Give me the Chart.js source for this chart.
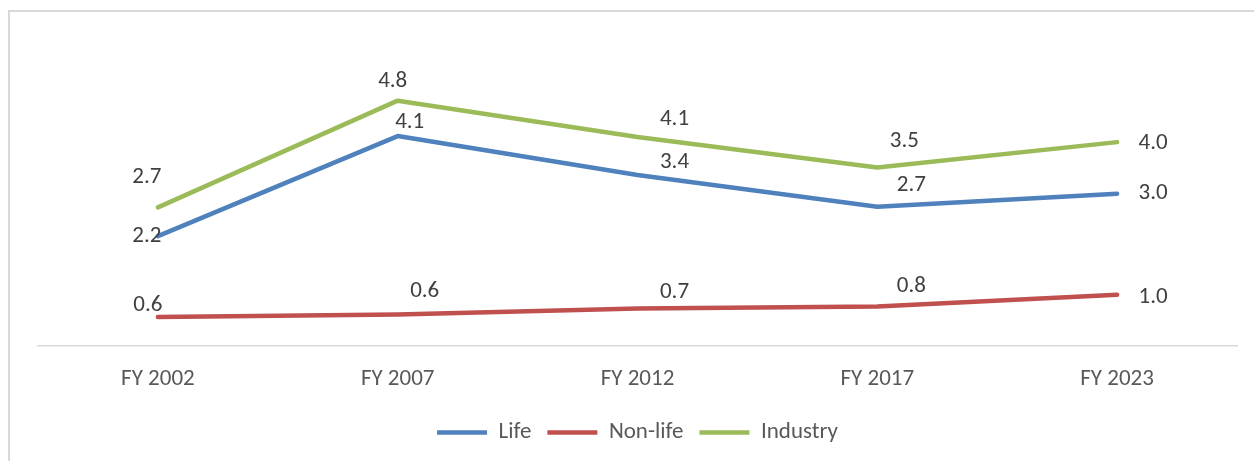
<!DOCTYPE html>
<html>
<head>
<meta charset="utf-8">
<script src="https://cdn.jsdelivr.net/npm/chart.js@4/dist/chart.umd.min.js"></script>
<style>
  html, body { margin: 0; padding: 0; background: #ffffff; overflow: hidden; }
  #frame { position: absolute; left: 8px; top: 10px; width: 1270px; height: 480px; border: 2px solid #d9d9d9; box-sizing: border-box; }
  #wrap { position: absolute; left: 0; top: 0; width: 1254px; height: 461px; }
</style>
</head>
<body>
<div id="frame"></div>
<div id="wrap"><canvas id="c" width="1254" height="461"></canvas></div>
<script>
// ---- data ----
const categories = ["FY 2002", "FY 2007", "FY 2012", "FY 2017", "FY 2023"];
const lifeValues = [2.16, 4.14, 3.37, 2.74, 3.0];
const nonLifeValues = [0.56, 0.61, 0.73, 0.77, 1.0];
const industryValues = [2.73, 4.84, 4.12, 3.52, 4.02];
const seriesNames = ["Life", "Non-life", "Industry"];

// ---- label offsets (style, px relative to point) ----
const labelOffsets = [
  [[-11, 0], [12, -14], [37, -13], [34, -22], [36, 0]],
  [[-10, -12], [27, -23], [37, -16], [34, -20], [36, 2]],
  [[-11, -30], [-5, -19], [37, -18], [27, -26], [36, 1]]
];

const FONT = "Carlito, Lato, 'Open Sans', sans-serif";

const dataLabelPlugin = {
  id: 'dataLabels',
  afterDatasetsDraw(chart) {
    const ctx = chart.ctx;
    ctx.save();
    ctx.font = "23px " + FONT;
    ctx.fillStyle = "#404040";
    ctx.textAlign = "center";
    ctx.textBaseline = "middle";
    chart.data.datasets.forEach((ds, di) => {
      const meta = chart.getDatasetMeta(di);
      meta.data.forEach((pt, i) => {
        const off = labelOffsets[di][i];
        ctx.fillText(ds.data[i].toFixed(1), pt.x + off[0], pt.y + off[1]);
      });
    });
    ctx.restore();
  }
};

const lineStyle = { borderWidth: 4.5, pointRadius: 0, pointHoverRadius: 0, tension: 0, borderCapStyle: 'round', borderJoinStyle: 'round', fill: false };

new Chart(document.getElementById('c'), {
  type: 'line',
  data: {
    labels: categories,
    datasets: [
      Object.assign({ label: seriesNames[0], data: lifeValues, borderColor: '#4F81BD', backgroundColor: '#4F81BD' }, lineStyle),
      Object.assign({ label: seriesNames[1], data: nonLifeValues, borderColor: '#C0504D', backgroundColor: '#C0504D' }, lineStyle),
      Object.assign({ label: seriesNames[2], data: industryValues, borderColor: '#9BBB59', backgroundColor: '#9BBB59' }, lineStyle)
    ]
  },
  options: {
    responsive: false,
    animation: false,
    layout: { padding: { left: 38, right: 17, top: 42, bottom: 7 } },
    scales: {
      x: {
        offset: true,
        grid: { display: false },
        border: { display: true, color: '#d9d9d9', width: 1.5 },
        ticks: { color: '#595959', font: { family: FONT, size: 23 }, padding: 12, maxRotation: 0 }
      },
      y: { display: false, min: 0, max: 6 }
    },
    plugins: {
      legend: {
        position: 'bottom',
        labels: {
          usePointStyle: true,
          pointStyle: 'line',
          pointStyleWidth: 50,
          color: '#595959',
          font: { family: FONT, size: 23 },
          padding: 16
        }
      },
      tooltip: { enabled: false }
    }
  },
  plugins: [dataLabelPlugin]
});
</script>
</body>
</html>
